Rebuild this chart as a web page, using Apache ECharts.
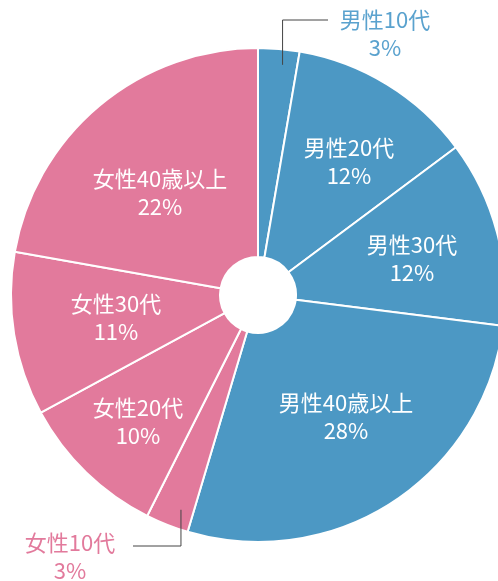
<!DOCTYPE html>
<html><head><meta charset="utf-8">
<script src="https://cdn.jsdelivr.net/npm/echarts@6/dist/echarts.min.js"></script>
<style>html,body{margin:0;padding:0;background:#fff}#c{width:498px;height:581px}</style>
</head><body><div id="c"></div>
<script>
const categories = ['男性10代','男性20代','男性30代','男性40歳以上','女性10代','女性20代','女性30代','女性40歳以上'];
const values = [2.7, 12.1, 12.2, 27.6, 2.8, 9.7, 10.7, 22.2];
const groups = ['m','m','m','m','f','f','f','f'];

const BLUE = '#4C98C4', PINK = '#E27A9C';
const CX = 258, CY = 295, R0 = 38, R = 247;
const FONT = '"Noto Sans CJK JP", sans-serif';
// label anchor positions (layout only)
const labelPos = {1: [349, 162], 2: [412, 259], 3: [346, 417], 5: [138, 422], 6: [116, 318], 7: [160, 193]};
const outsideIdx = [0, 4];

const labelBase = {
  fontFamily: FONT, fontSize: 22, lineHeight: 28, align: 'center',
  formatter: p => p.name + '\n' + Math.round(p.percent) + '%'
};

// main pie (fills + inside labels)
const dataMain = categories.map((name, i) => {
  const item = { name: name, value: values[i], itemStyle: { color: groups[i] === 'm' ? BLUE : PINK } };
  if (outsideIdx.indexOf(i) >= 0) item.label = { show: false };
  return item;
});
// overlay pie (transparent, only outside labels with leader lines on top)
const dataOver = categories.map((name, i) => {
  const item = { name: name, value: values[i] };
  if (outsideIdx.indexOf(i) >= 0) {
    item.label = { show: true, color: groups[i] === 'm' ? '#5AA2CE' : PINK };
    item.labelLine = { show: true };
  } else {
    item.label = { show: false };
    item.labelLine = { show: false };
  }
  return item;
});

const chart = echarts.init(document.getElementById('c'), null, { renderer: 'canvas' });
chart.setOption({
  animation: false,
  series: [{
    type: 'pie',
    z: 2,
    center: [CX, CY],
    radius: [R0, R],
    startAngle: 90,
    clockwise: true,
    avoidLabelOverlap: false,
    itemStyle: { borderColor: '#fff', borderWidth: 2 },
    label: Object.assign({ show: true, position: 'inside', color: '#fff' }, labelBase),
    labelLine: { show: false },
    labelLayout: function (p) {
      const q = labelPos[p.dataIndex];
      return q ? { x: q[0], y: q[1], align: 'center', verticalAlign: 'middle' } : {};
    },
    data: dataMain
  }, {
    type: 'pie',
    z: 5,
    silent: true,
    center: [CX, CY],
    radius: [R0, R],
    startAngle: 90,
    clockwise: true,
    avoidLabelOverlap: false,
    itemStyle: { color: 'rgba(0,0,0,0)', borderWidth: 0 },
    label: Object.assign({ show: true, position: 'outside' }, labelBase),
    labelLine: { show: true, lineStyle: { color: '#444', width: 1 } },
    labelLayout: function (p) {
      const i = p.dataIndex;
      if (outsideIdx.indexOf(i) < 0) return {};
      const E = p.labelLinePoints ? p.labelLinePoints[0] : [CX, CY - R];
      const k = 231 / R;
      const ix = CX + (E[0] - CX) * k, iy = CY + (E[1] - CY) * k;
      if (i === 0) {
        const x = ix + 5;
        return { x: 385, y: 34, align: 'center', verticalAlign: 'middle',
          labelLinePoints: [[x, iy], [x, 20], [328, 20]] };
      }
      const x = ix + 8;
      return { x: 70, y: 557, align: 'center', verticalAlign: 'middle',
        labelLinePoints: [[x, iy], [x, 546], [133, 546]] };
    },
    data: dataOver
  }]
});
</script>
</body></html>
